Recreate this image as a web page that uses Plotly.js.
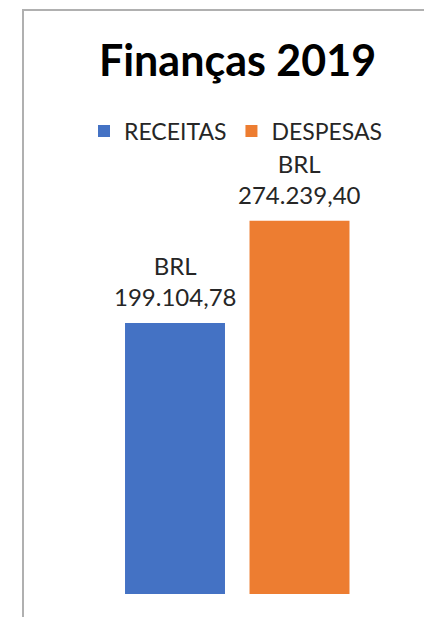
<!DOCTYPE html>
<html>
<head>
<meta charset="utf-8">
<script src="https://cdn.plot.ly/plotly-3.0.1.min.js"></script>
<style>
html,body{margin:0;padding:0;background:#fff;}
#frame{position:absolute;left:22px;top:9px;width:402px;height:608px;border-left:2px solid #b0b0b0;border-top:2px solid #b0b0b0;box-sizing:border-box;pointer-events:none;z-index:5;}
#chart{position:absolute;left:0;top:0;width:424px;height:617px;}
</style>
</head>
<body>
<div id="chart"></div>
<div id="frame"></div>
<script>
const seriesNames = ["RECEITAS", "DESPESAS"];
const values = [199104.78, 274239.40];
const seriesColors = ["#4472C4", "#ED7D31"];
const currency = "BRL";

const fontFamily = "Lato, 'Open Sans', sans-serif";
const legendFont = {family: fontFamily, size: 23, color: "#262626"};
const labelFont = {family: fontFamily, size: 24, color: "#262626"};

function fmtBR(v) {
  const parts = v.toFixed(2).split(".");
  return parts[0].replace(/\B(?=(\d{3})+(?!\d))/g, ".") + "," + parts[1];
}

const traces = seriesNames.map((name, i) => ({
  type: "bar",
  name: name,
  x: [name],
  y: [values[i]],
  marker: {color: seriesColors[i], line: {width: 0}},
  hoverinfo: "skip"
}));

const annotations = seriesNames.map((name, i) => ({
  x: name, y: values[i], xref: "x", yref: "y",
  text: currency + "<br>" + fmtBR(values[i]),
  showarrow: false,
  xanchor: "center", yanchor: "bottom",
  yshift: 10,
  font: labelFont
}));

const layout = {
  width: 424,
  height: 617,
  paper_bgcolor: "rgba(0,0,0,0)",
  plot_bgcolor: "rgba(0,0,0,0)",
  margin: {l: 23, r: 0, t: 145, b: 23, pad: 0, autoexpand: false},
  title: {
    text: "<b>Finanças 2019</b>",
    font: {family: fontFamily, size: 43, color: "#000"},
    x: 237.5/424, xref: "container", xanchor: "center",
    y: 1 - 61/617, yref: "container", yanchor: "middle"
  },
  barmode: "group",
  bargap: 0.197,
  showlegend: true,
  legend: {
    orientation: "h",
    x: 236/424, xref: "container", xanchor: "center",
    y: 1 - 131/617, yref: "container", yanchor: "middle",
    font: legendFont,
    traceorder: "normal"
  },
  annotations: annotations,
  xaxis: {visible: false, type: "category", range: [-1.221, 2.0], fixedrange: true},
  yaxis: {visible: false, range: [0, 330000], fixedrange: true}
};

Plotly.newPlot("chart", traces, layout, {staticPlot: true, displayModeBar: false});
</script>
</body>
</html>
